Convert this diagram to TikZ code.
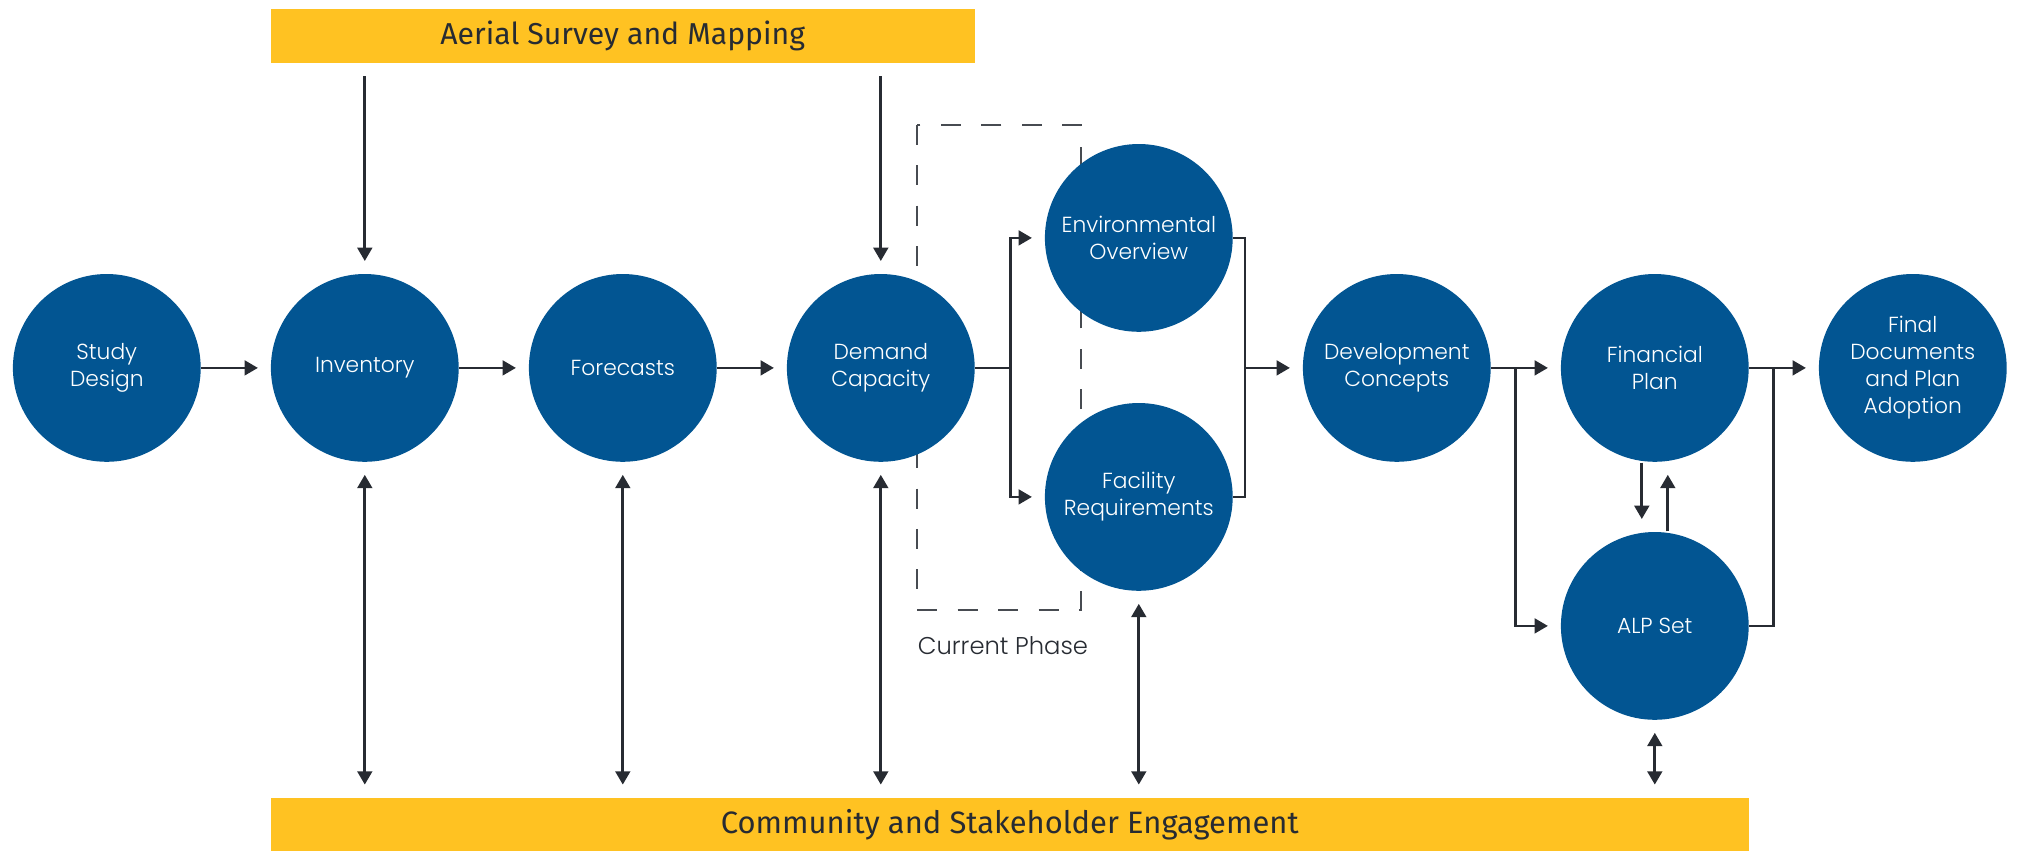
\documentclass[tikz,border=0pt]{standalone}
\usepackage{fontspec}
\setmainfont{Poppins Light}
\newfontfamily\bandfont{Fira Sans}
\usepackage{tikz}
\usetikzlibrary{shapes.geometric, arrows.meta}
\definecolor{phaseblue}{HTML}{025592}
\definecolor{bandyellow}{HTML}{FFC222}
\definecolor{inkgray}{HTML}{272B32}
\tikzstyle{phase} = [circle, minimum size=1.878cm, inner sep=0pt, align=center, fill=phaseblue, text=white, font=\fontsize{6.2}{7.7}\selectfont]
\tikzstyle{band} = [rectangle, minimum height=0.54cm, inner sep=0pt, fill=bandyellow, text=inkgray, font=\bandfont\fontsize{8.6}{10}\selectfont]
\tikzstyle{line} = [line width=0.75pt, draw=inkgray]
\tikzstyle{arrow} = [line, -{Triangle[length=3.8pt,width=4.2pt]}, shorten >=3.5pt]
\tikzstyle{varrow} = [arrow, shorten <=3.5pt]
\tikzstyle{darrow} = [line, {Triangle[length=3.8pt,width=4.2pt]}-{Triangle[length=3.8pt,width=4.2pt]}, shorten >=3.5pt, shorten <=3.5pt]
\tikzstyle{phasebox} = [draw=inkgray!85, line width=0.55pt, dash pattern=on 5.7pt off 5.8pt]

\begin{document}
\begin{tikzpicture}[node distance=2.58cm]
\useasboundingbox (-1.068,-4.831) rectangle (19.102,3.679);

% current phase frame, behind the circles
\draw [phasebox] (8.104,2.431) rectangle (9.738,-2.418);
\node (cur) [anchor=west, text=inkgray, font=\fontsize{6.9}{8}\selectfont, inner sep=0pt] at (8.104,-2.779) {Current Phase};

\node (study) [phase] {Study\\Design};
\node (inv) [phase, right of=study] {Inventory};
\node (fore) [phase, right of=inv] {Forecasts};
\node (dem) [phase, right of=fore] {Demand\\Capacity};
\node (env) [phase, right of=dem, yshift=1.30cm] {Environmental\\Overview};
\node (fac) [phase, right of=dem, yshift=-1.29cm] {Facility\\Requirements};
\node (dev) [phase, right of=env, yshift=-1.30cm] {Development\\Concepts};
\node (fin) [phase, right of=dev] {Financial\\Plan};
\node (alp) [phase, below of=fin] {ALP Set};
\node (final) [phase, right of=fin] {Final\\Documents\\and Plan\\Adoption};

\node (aerial) [band, minimum width=7.04cm] at (5.16,3.319) {Aerial Survey and Mapping};
\node (engage) [band, minimum width=14.78cm, minimum height=0.534cm, font=\bandfont\fontsize{8.8}{10}\selectfont] at (9.03,-4.564) {Community and Stakeholder Engagement};

\coordinate (split1) at ([xshift=0.35cm]dem.east);
\coordinate (merge1) at ([xshift=0.115cm]env.east |- dev.west);
\coordinate (split2) at ([xshift=0.24cm]dev.east);
\coordinate (merge2) at ([xshift=0.24cm]fin.east);

\draw [arrow] (study) -- (inv);
\draw [arrow] (inv) -- (fore);
\draw [arrow] (fore) -- (dem);
\draw [line] (dem.east) -- (split1);
\draw [arrow] (split1) |- (env.west);
\draw [arrow] (split1) |- (fac.west);
\draw [line] (env.east) -| (merge1);
\draw [line] (fac.east) -| (merge1);
\draw [arrow] (merge1) -- (dev.west);
\draw [arrow] (dev.east) -- (fin.west);
\draw [arrow] (split2) |- (alp.west);
\draw [arrow] (fin.east) -- (final.west);
\draw [line] (alp.east) -| (merge2);
\draw [arrow] ([xshift=-0.13cm]fin.south) -- ([xshift=-0.13cm]alp.north);
\draw [arrow] ([xshift=0.13cm]alp.north) -- ([xshift=0.13cm]fin.south);

\draw [varrow] (inv |- aerial.south) -- (inv.north);
\draw [varrow] (dem |- aerial.south) -- (dem.north);

\draw [darrow] (inv.south) -- (inv |- engage.north);
\draw [darrow] (fore.south) -- (fore |- engage.north);
\draw [darrow] (dem.south) -- (dem |- engage.north);
\draw [darrow] (fac.south) -- (fac |- engage.north);
\draw [darrow] (alp.south) -- (alp |- engage.north);

\end{tikzpicture}
\end{document}
